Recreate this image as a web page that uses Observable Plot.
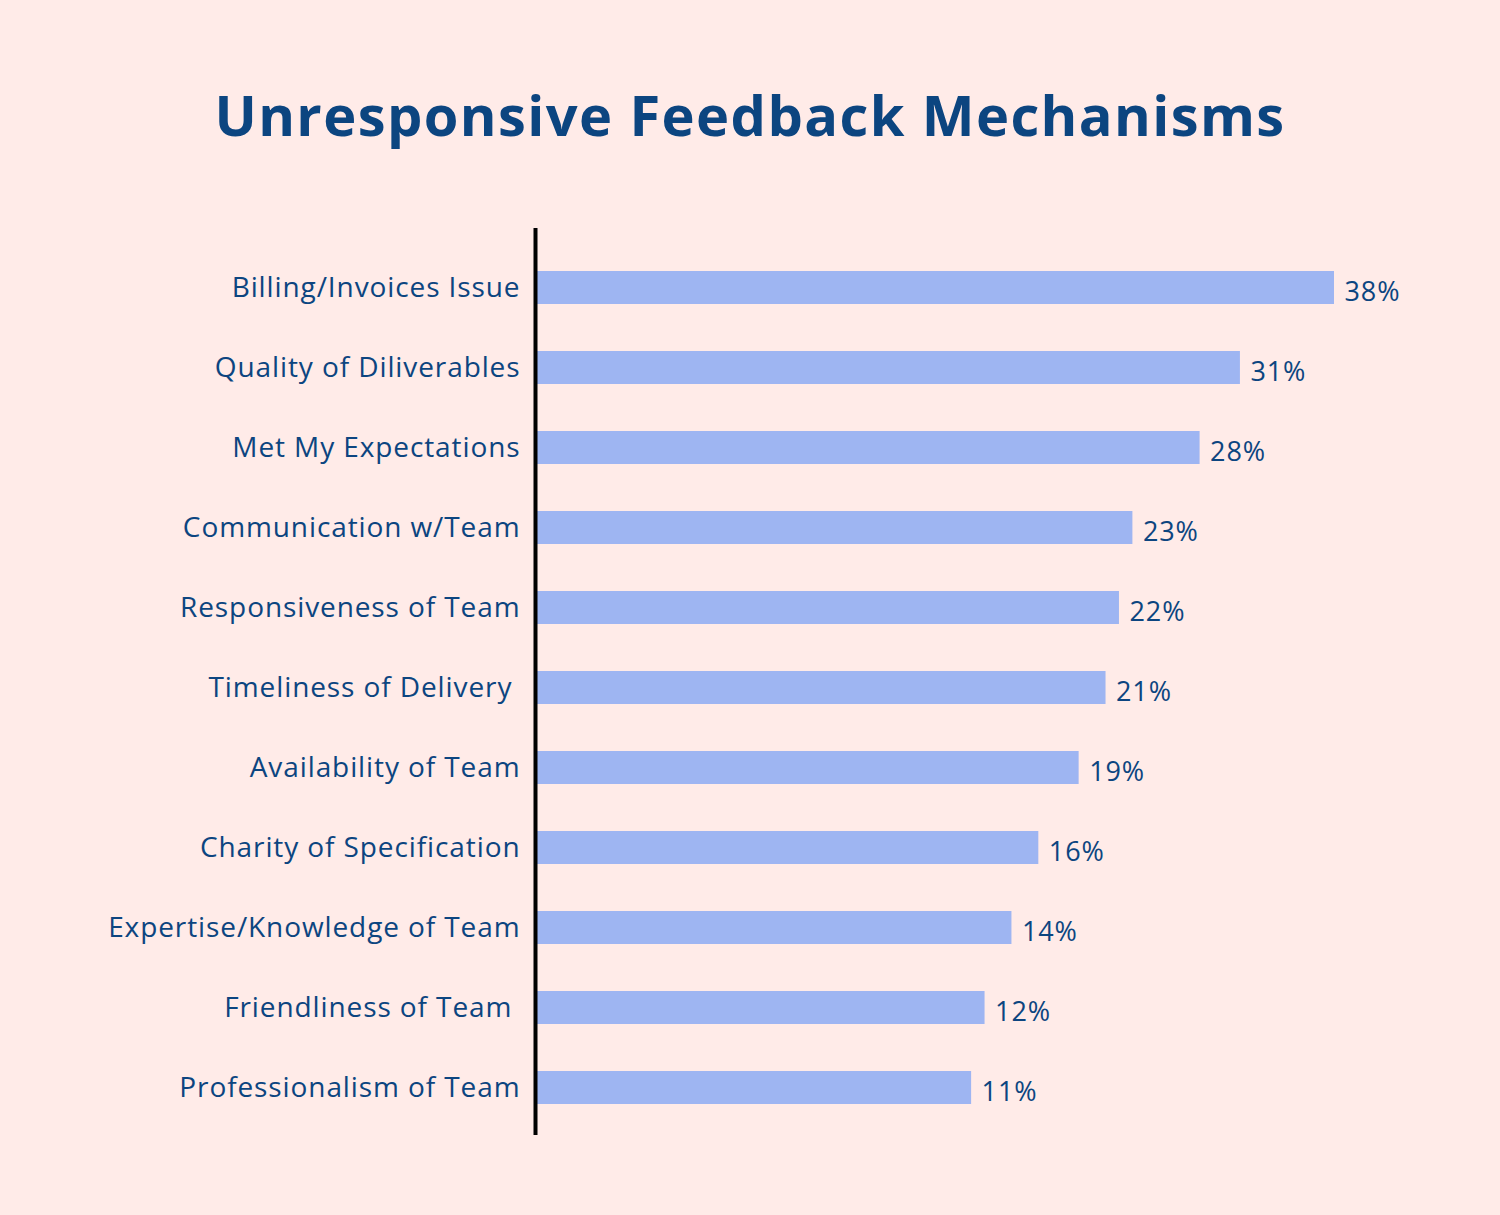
<!DOCTYPE html>
<html><head><meta charset="utf-8">
<script src="https://cdn.jsdelivr.net/npm/d3@7"></script>
<script src="https://cdn.jsdelivr.net/npm/@observablehq/plot@0.6"></script>
<style>
html,body{margin:0;padding:0;background:#FFEBE8;}
#wrap{width:1500px;height:1215px;position:relative;overflow:hidden;}
#title{position:absolute;left:0;top:78px;width:1500px;text-align:center;margin:0;
  font-family:"Open Sans",sans-serif;font-weight:700;font-size:56px;line-height:72px;letter-spacing:1.4px;color:#0C4580;}
#chart{position:absolute;left:0;top:228px;}
#chart svg{display:block;}
#chart text{white-space:pre;letter-spacing:0.9px;}
</style></head>
<body><div id="wrap"><h1 id="title">Unresponsive Feedback Mechanisms</h1><div id="chart"></div></div>
<script>
const categories = ["Billing/Invoices Issue", "Quality of Diliverables", "Met My Expectations", "Communication w/Team", "Responsiveness of Team", "Timeliness of Delivery ", "Availability of Team", "Charity of Specification", "Expertise/Knowledge of Team", "Friendliness of Team ", "Professionalism of Team"];
const values = [38, 31, 28, 23, 22, 21, 19, 16, 14, 12, 11];
const valueLabels = ["38%", "31%", "28%", "23%", "22%", "21%", "19%", "16%", "14%", "12%", "11%"];
const baseline = -21.3;

const data = categories.map((c, i) => ({category: c, value: values[i], label: valueLabels[i]}));
const textColor = "#0C4580";

const chart = Plot.plot({
  width: 1500, height: 987,
  marginLeft: 537, marginRight: 166, marginTop: 19, marginBottom: 88,
  style: {background: "transparent", fontFamily: "'Open Sans', sans-serif", color: textColor, overflow: "visible"},
  x: {domain: [baseline, 38], axis: null},
  y: {domain: categories, paddingInner: 0.5875, paddingOuter: 0.29375, axis: null},
  marks: [
    Plot.barX(data, {x1: d => baseline, x2: "value", y: "category", fill: "#9EB5F2"}),
    Plot.ruleX([baseline], {stroke: "#000", strokeWidth: 4, insetTop: -19, insetBottom: -8, dx: -2}),
    Plot.text(data, {x: "value", y: "category", text: "label", textAnchor: "start", dx: 10, dy: 4, fontSize: 27, fill: textColor}),
    Plot.axisY({tickSize: 0, tickPadding: 17, fontSize: 28, label: null, fill: textColor})
  ]
});
document.getElementById("chart").appendChild(chart);
</script></body></html>
